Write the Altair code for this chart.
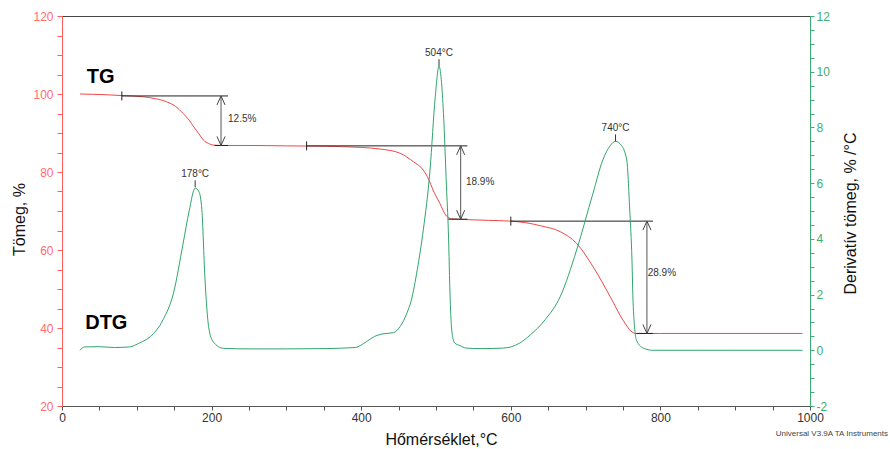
import altair as alt
import pandas as pd

# ---------------- data ----------------
# TG curve: temperature (°C) vs mass (%)
tg_temp = [24, 60, 80, 108, 125, 140, 152, 162, 170, 176, 183, 189, 196, 202, 215, 250, 300, 350, 400, 425,
           452, 470, 483, 490, 496, 505, 514, 521, 540, 570, 600, 620, 640, 666, 688, 710, 733, 750, 762, 767,
           800, 990]
tg_mass = [100.0, 99.8, 99.6, 99.3, 98.8, 98.0, 96.8, 95.0, 93.3, 91.6, 89.8, 88.2, 87.3, 86.9, 86.8, 86.8,
           86.7, 86.6, 86.3, 85.9, 84.8, 82.6, 80.5, 78.2, 75.4, 72.0, 68.7, 68.0, 67.8, 67.6, 67.4, 67.0, 66.2,
           64.7, 61.7, 55.7, 48.0, 42.0, 39.0, 38.6, 38.6, 38.6]

# DTG curve: temperature (°C) vs derivative mass (%/°C)
dtg_temp = [24, 30, 50, 70, 90, 104, 118, 135, 149, 162, 170, 178, 183, 187, 191, 196, 202, 216, 250, 300,
            350, 392, 407, 418, 429, 443, 452, 461, 467, 475, 483, 492, 499, 504, 510, 514, 516.5, 519, 521, 525,
            532, 540, 560, 590, 600, 612, 626, 646, 666, 688, 710, 723, 733, 740, 748, 755, 759, 762, 763.5, 768,
            777, 790, 850, 900, 990]
dtg_val = [0.0, 0.12, 0.13, 0.1, 0.12, 0.27, 0.49, 1.09, 2.05, 3.85, 5.0, 5.82, 5.7, 5.04, 2.64, 0.85, 0.31,
           0.07, 0.05, 0.05, 0.06, 0.1, 0.31, 0.5, 0.59, 0.63, 0.85, 1.33, 1.8, 2.9, 4.32, 6.47, 9.1, 10.2, 8.5,
           5.87, 4.3, 1.8, 0.73, 0.26, 0.17, 0.08, 0.06, 0.08, 0.12, 0.26, 0.55, 1.1, 1.92, 3.6, 5.65, 6.83,
           7.35, 7.5, 7.35, 6.83, 5.04, 3.24, 1.7, 0.37, 0.08, 0.0, 0.0, 0.0, 0.0]

# mass-loss steps (TG annotations)
step_start = [80, 327, 600]          # °C where the upper baseline starts
step_end = [222, 542, 790]           # °C where the baselines end
step_top = [99.5, 86.7, 67.4]        # %
step_bottom = [86.8, 67.9, 38.6]     # %
step_bottom_start = [204, 516, 768]  # °C
step_arrow = [212.6, 533, 782]       # °C
step_text = ["12.5%", "18.9%", "28.9%"]
step_text_x = [222, 540, 783]
step_text_y = [93.7, 77.5, 54.2]

# DTG peaks
peak_temp = [178, 504, 740]
peak_val = [5.85, 10.2, 7.5]
peak_text = ["178°C", "504°C", "740°C"]

# curve labels
curve_names = ["TG", "DTG"]
curve_name_x = [33, 31]
curve_name_y = [104.4, 41.3]

FONT = "Liberation Sans"
RED = "#f04848"
RED_AX = "#ff5c5c"
GREEN = "#2fa56c"
GREEN_AX = "#3cae74"
DARK = "#333333"

# ---------------- tables ----------------
tg_df = pd.DataFrame({"T": tg_temp, "v": tg_mass})
dtg_df = pd.DataFrame({"T": dtg_temp, "v": dtg_val})

hl_df = pd.DataFrame({
    "T": step_start + step_bottom_start,
    "T2": step_end + step_end,
    "v": step_top + step_bottom,
})
arrow_df = pd.DataFrame({"T": step_arrow, "v": step_top, "v2": step_bottom})
up_df = pd.DataFrame({"T": step_arrow, "v": step_top})
down_df = pd.DataFrame({"T": step_arrow, "v": step_bottom})
start_df = pd.DataFrame({"T": step_start, "v": step_top})
steptxt_df = pd.DataFrame({"T": step_text_x, "v": step_text_y, "t": step_text})
names_df = pd.DataFrame({"T": curve_name_x, "v": curve_name_y, "t": curve_names})
peak_df = pd.DataFrame({"T": peak_temp, "v": peak_val, "t": peak_text})
foot_df = pd.DataFrame({"t": ["Universal V3.9A TA Instruments"]})

# ---------------- scales & axes ----------------
x_scale = alt.Scale(domain=[0, 1000], nice=False, zero=False)
x_axis = alt.Axis(
    title="Hőmérséklet,°C", values=list(range(0, 1001, 50)),
    labelExpr="datum.value % 200 === 0 ? '' + datum.value : ''",
    labelOverlap=False, labelFlush=False, grid=False,
    domainColor="#555555", tickColor="#555555", labelColor=DARK,
    tickSize=4, labelPadding=2, labelFontSize=12,
    titleFontSize=16, titleFontWeight="normal", titleColor="#111111",
    titleX=379, titleY=38, titleBaseline="alphabetic", titleAlign="center",
)
tg_scale = alt.Scale(domain=[20, 120], nice=False, zero=False)
tg_axis = alt.Axis(
    title="Tömeg, %", orient="left", values=list(range(20, 121, 5)),
    labelExpr="datum.value % 20 === 0 ? '' + datum.value : ''",
    labelOverlap=False, labelFlush=False, grid=False,
    domainColor=RED_AX, tickColor=RED_AX, labelColor="#ff6e6e",
    tickSize=5, labelPadding=4, labelFontSize=12,
    titleFontSize=16, titleFontWeight="normal", titleColor="#111111",
    titleAngle=270, titleX=-38, titleY=203, titleBaseline="alphabetic", titleAlign="center",
)
dtg_scale = alt.Scale(domain=[-2, 12], nice=False, zero=False)
dtg_axis = alt.Axis(
    title="Derivatív tömeg, % /°C", orient="right", values=[-2 + 0.5 * i for i in range(29)],
    labelExpr="datum.value % 2 === 0 ? '' + datum.value : ''",
    labelOverlap=False, labelFlush=False, grid=False,
    domainColor=GREEN_AX, tickColor=GREEN_AX, labelColor=GREEN_AX,
    tickSize=4, labelPadding=2, labelFontSize=12,
    titleFontSize=16, titleFontWeight="normal", titleColor="#111111",
    titleAngle=270, titleX=45, titleY=197, titleBaseline="alphabetic", titleAlign="center",
)

X = alt.X("T:Q", scale=x_scale, axis=x_axis)
Ytg = alt.Y("v:Q", scale=tg_scale, axis=tg_axis)
Ydtg = alt.Y("v:Q", scale=dtg_scale, axis=dtg_axis)

# ---------------- TG group ----------------
tg_line = alt.Chart(tg_df).mark_line(color=RED, strokeWidth=1, interpolate="monotone").encode(x=X, y=Ytg)
hlines = alt.Chart(hl_df).mark_rule(color="#222222", strokeWidth=1).encode(x=X, x2="T2:Q", y=Ytg)
arrows = alt.Chart(arrow_df).mark_rule(color="#555555", strokeWidth=1).encode(x=X, y=Ytg, y2="v2:Q")
heads_up = alt.Chart(up_df).mark_point(
    shape="M-0.45,1L0,0L0.45,1", size=324, filled=False, color="#444444", strokeWidth=1, opacity=1
).encode(x=X, y=Ytg)
heads_down = alt.Chart(down_df).mark_point(
    shape="M-0.45,-1L0,0L0.45,-1", size=324, filled=False, color="#444444", strokeWidth=1, opacity=1
).encode(x=X, y=Ytg)
start_ticks = alt.Chart(start_df).mark_point(
    shape="M0,-1L0,1", size=81, filled=False, color="#222222", strokeWidth=1, opacity=1
).encode(x=X, y=Ytg)
step_labels = alt.Chart(steptxt_df).mark_text(
    align="left", baseline="middle", fontSize=10, color=DARK, font=FONT
).encode(x=X, y=Ytg, text="t:N")
names = alt.Chart(names_df).mark_text(
    align="left", baseline="middle", fontSize=20, fontWeight="bold", color="#000000", font=FONT
).encode(x=X, y=Ytg, text="t:N")

tg_group = alt.layer(tg_line, hlines, arrows, heads_up, heads_down, start_ticks, step_labels, names)

# ---------------- DTG group ----------------
dtg_line = alt.Chart(dtg_df).mark_line(color=GREEN, strokeWidth=1, interpolate="monotone").encode(x=X, y=Ydtg)
peak_ticks = alt.Chart(peak_df).transform_calculate(v2="datum.v + 0.25").mark_rule(
    color="#333333", strokeWidth=1
).encode(x=X, y=Ydtg, y2="v2:Q")
peak_labels = alt.Chart(peak_df).mark_text(
    align="center", baseline="middle", dy=-13, fontSize=10, color=DARK, font=FONT
).encode(x=X, y=Ydtg, text="t:N")
footnote = alt.Chart(foot_df).mark_text(
    align="right", baseline="middle", fontSize=8, color="#444444", font=FONT
).encode(x=alt.value(826), y=alt.value(418), text="t:N")

dtg_group = alt.layer(dtg_line, peak_ticks, peak_labels, footnote)

chart = (
    alt.layer(tg_group, dtg_group)
    .resolve_scale(y="independent")
    .properties(
        width=748, height=390, autosize="none",
        padding={"left": 62, "top": 16, "right": 80, "bottom": 43},
        background="white",
    )
    .configure(font=FONT)
    .configure_view(stroke="#444444", strokeWidth=1)
)

chart.save("out.html", embed_options={"renderer": "svg", "actions": False})
